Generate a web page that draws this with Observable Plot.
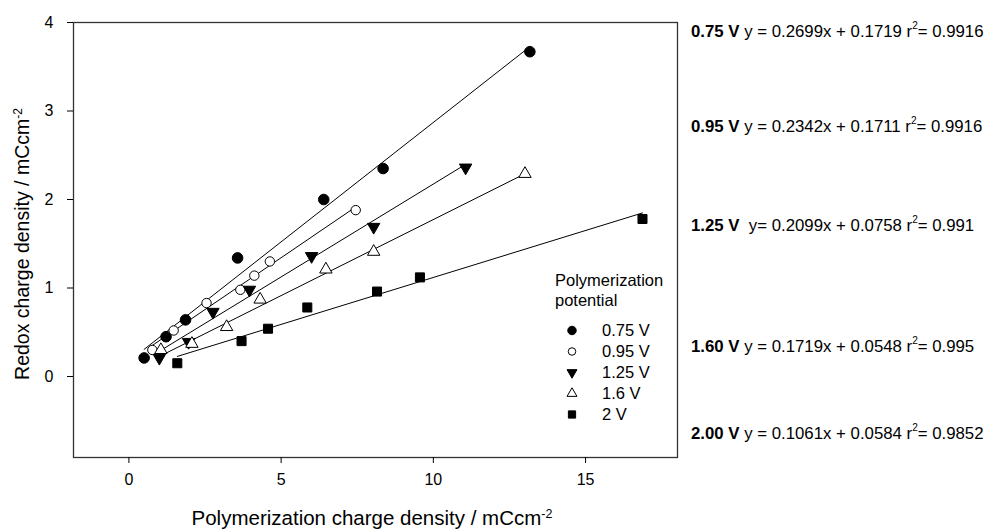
<!DOCTYPE html>
<html><head><meta charset="utf-8">
<script src="https://cdn.jsdelivr.net/npm/d3@7"></script>
<script src="https://cdn.jsdelivr.net/npm/@observablehq/plot@0.6"></script>
<style>
body{margin:0;background:#fff;font-family:"Liberation Sans",Arial,sans-serif;}
#wrap{position:relative;width:987px;height:530px;overflow:hidden;}
.eq{position:absolute;left:691px;font-size:16.8px;white-space:pre;color:#000;line-height:1;transform:translateY(-50%);}
.eq sup{font-size:0.6em;vertical-align:0.75em;line-height:0;}
</style></head><body><div id="wrap"></div>
<script>
// ---- data ----
const series = ["0.75 V", "0.95 V", "1.25 V", "1.6 V", "2 V"];
const eqLabels = ["0.75 V", "0.95 V", "1.25 V", "1.60 V", "2.00 V"];
const x075 = [0.50, 1.22, 1.86, 3.57, 6.40, 8.35, 13.17];
const y075 = [0.21, 0.45, 0.64, 1.34, 2.00, 2.35, 3.67];
const x095 = [0.77, 1.47, 2.55, 3.66, 4.12, 4.63, 7.45];
const y095 = [0.30, 0.52, 0.83, 0.98, 1.14, 1.30, 1.88];
const x125 = [1.00, 1.96, 2.76, 3.96, 6.00, 8.04, 11.06];
const y125 = [0.21, 0.39, 0.73, 0.98, 1.36, 1.69, 2.36];
const x160 = [1.05, 2.07, 3.21, 4.31, 6.47, 8.04, 13.01];
const y160 = [0.30, 0.37, 0.56, 0.87, 1.21, 1.41, 2.29];
const x200 = [1.59, 3.70, 4.57, 5.86, 8.15, 9.56, 16.87];
const y200 = [0.15, 0.40, 0.54, 0.78, 0.96, 1.12, 1.78];
const slopes = [0.2699, 0.2342, 0.2099, 0.1719, 0.1061];
const intercepts = [0.1719, 0.1711, 0.0758, 0.0548, 0.0584];
const eqPrefix = [" y =", " y =", "  y=", " y =", " y ="];
const r2 = ["0.9916", "0.9916", "0.991", "0.995", "0.9852"];
const xTicks = [0, 5, 10, 15];
const yTicks = [0, 1, 2, 3, 4];
const xTitle = "Polymerization charge density / mCcm";
const yTitle = "Redox charge density / mCcm";
const legendTitle = ["Polymerization", "potential"];

// ---- build ----
const xs = [x075, x095, x125, x160, x200];
const ys = [y075, y095, y125, y160, y200];
const styles = [
  {symbol: "circle", fill: "#000", stroke: "#000", r: 5.3, rotate: 0},
  {symbol: "circle", fill: "#fff", stroke: "#000", r: 4.7, rotate: 0},
  {symbol: "triangle", fill: "#000", stroke: "#000", r: 4.6, rotate: 180},
  {symbol: "triangle", fill: "#fff", stroke: "#000", r: 4.6, rotate: 0},
  {symbol: "square", fill: "#000", stroke: "#000", r: 5.1, rotate: 0}
];
const rows = series.map((s, i) => xs[i].map((x, j) => ({series: s, x, y: ys[i][j]})));
const fits = series.flatMap((s, i) => [d3.min(xs[i]), d3.max(xs[i])].map(x => ({series: s, x, y: slopes[i] * x + intercepts[i]})));

const font = '"Liberation Sans", Arial, sans-serif';
const plot = Plot.plot({
  width: 987, height: 530,
  marginLeft: 73, marginRight: 310, marginTop: 22, marginBottom: 73,
  x: {domain: [-1.82, 18.02], label: null},
  y: {domain: [-0.915, 4], label: null},
  style: {fontFamily: font, fontSize: "16px", color: "#000", background: "#fff"},
  marks: [
    Plot.frame({stroke: "#333", strokeWidth: 1.3}),
    Plot.axisX({ticks: xTicks, tickSize: 6, tickPadding: 10, label: null, fontSize: 16, tickFormat: d3.format("d")}),
    Plot.axisY({ticks: yTicks, tickSize: 6, tickPadding: 14, label: null, fontSize: 16, tickFormat: d3.format("d")}),
    Plot.line(fits, {x: "x", y: "y", z: "series", stroke: "#000", strokeWidth: 1}),
    ...rows.map((data, i) => Plot.dot(data, {x: "x", y: "y", symbol: styles[i].symbol, fill: styles[i].fill, stroke: styles[i].stroke, r: styles[i].r, rotate: styles[i].rotate, strokeWidth: 1}))
  ]
});
const wrap = document.getElementById("wrap");
wrap.appendChild(plot);

const svg = d3.select(plot);
// axis titles
const xt = svg.append("text").attr("x", 372).attr("y", 525).attr("text-anchor", "middle")
  .style("font-family", font).style("font-size", "20.5px").attr("fill", "#000");
xt.append("tspan").text(xTitle);
xt.append("tspan").attr("dy", "-0.55em").style("font-size", "12.5px").text("-2");
const yt = svg.append("text").attr("transform", "translate(29,244) rotate(-90)").attr("text-anchor", "middle")
  .style("font-family", font).style("font-size", "19.5px").attr("fill", "#000");
yt.append("tspan").text(yTitle);
yt.append("tspan").attr("dy", "-0.55em").style("font-size", "12px").text("-2");

// legend
const lg = svg.append("g").style("font-family", font).style("font-size", "16.5px").attr("fill", "#000").attr("text-anchor", "start");
legendTitle.forEach((t, i) => lg.append("text").attr("x", 555).attr("y", 280 + i * 20).attr("dy", "0.35em").attr("text-anchor", "start").text(t));
const symMap = {circle: d3.symbolCircle, triangle: d3.symbolTriangle, square: d3.symbolSquare};
series.forEach((s, i) => {
  const yy = 330.5 + i * 21;
  const st = styles[i];
  const rr = st.r * 0.8;
  lg.append("path").attr("d", d3.symbol(symMap[st.symbol], Math.PI * rr * rr)())
    .attr("transform", `translate(572,${yy}) rotate(${st.rotate})`)
    .attr("fill", st.fill).attr("stroke", st.stroke).attr("stroke-width", 1);
  lg.append("text").attr("x", 602).attr("y", yy).attr("dy", "0.35em").attr("text-anchor", "start").text(s);
});

// equations at right
const eqY = [32, 127, 226, 347, 434];
eqLabels.forEach((lab, i) => {
  const d = document.createElement("div");
  d.className = "eq";
  d.style.top = eqY[i] + "px";
  d.innerHTML = `<b>${lab}</b>${eqPrefix[i]} ${slopes[i].toFixed(4)}x + ${intercepts[i].toFixed(4)} r<sup>2</sup>= ${r2[i]}`;
  wrap.appendChild(d);
});
</script></body></html>
